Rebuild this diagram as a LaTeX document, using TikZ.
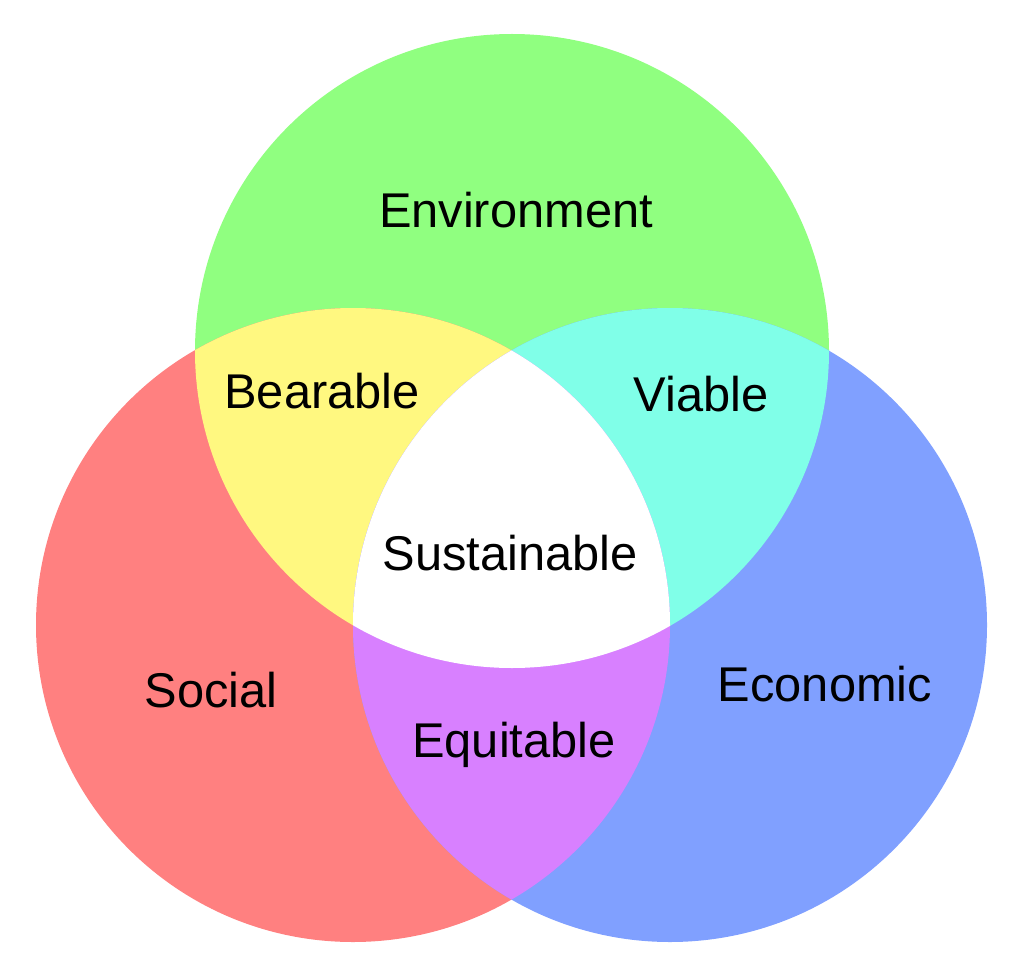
\documentclass[tikz,border=0pt]{standalone}
\usepackage{fontspec}
\setmainfont{Liberation Sans}
\usepackage{tikz}
\usepackage{xcolor}
\definecolor{envgreen}{RGB}{144,255,128}
\definecolor{socred}{RGB}{255,128,128}
\definecolor{ecoblue}{RGB}{128,160,255}
\definecolor{bearyellow}{RGB}{255,248,128}
\definecolor{viacyan}{RGB}{128,255,232}
\definecolor{equimagenta}{RGB}{216,128,255}

\begin{document}
\begin{tikzpicture}[x=1pt, y=-1pt, font=\fontsize{48.8}{56}\selectfont]
        \useasboundingbox (0,0) rectangle (1024,976);
        \def\rad{317pt}
        \coordinate (env) at (512,351);
        \coordinate (soc) at (353,625);
        \coordinate (eco) at (670,625);
        % the three circles
        \foreach \c/\col in {env/envgreen, soc/socred, eco/ecoblue}
            \fill[\col] (\c) circle[radius=\rad];
        % pairwise overlaps
        \foreach \a/\b/\col in {env/soc/bearyellow, env/eco/viacyan, soc/eco/equimagenta} {
            \begin{scope}
                \clip (\a) circle[radius=\rad];
                \fill[\col] (\b) circle[radius=\rad];
            \end{scope}
        }
        % all three
        \begin{scope}
            \clip (env) circle[radius=\rad];
            \clip (soc) circle[radius=\rad];
            \fill[white] (eco) circle[radius=\rad];
        \end{scope}
        % labels
        \node (environment) at (516,210) {Environment};
        \node (social) at (211,690) {Social};
        \node (economic) at (825,684) {Economic};
        \node (bearable) at (322,391) {Bearable};
        \node (viable) at (701,394) {Viable};
        \node (equitable) at (514,745) {Equitable};
        \node (sustainable) at (510,553) {Sustainable};
    \end{tikzpicture}
\end{document}
